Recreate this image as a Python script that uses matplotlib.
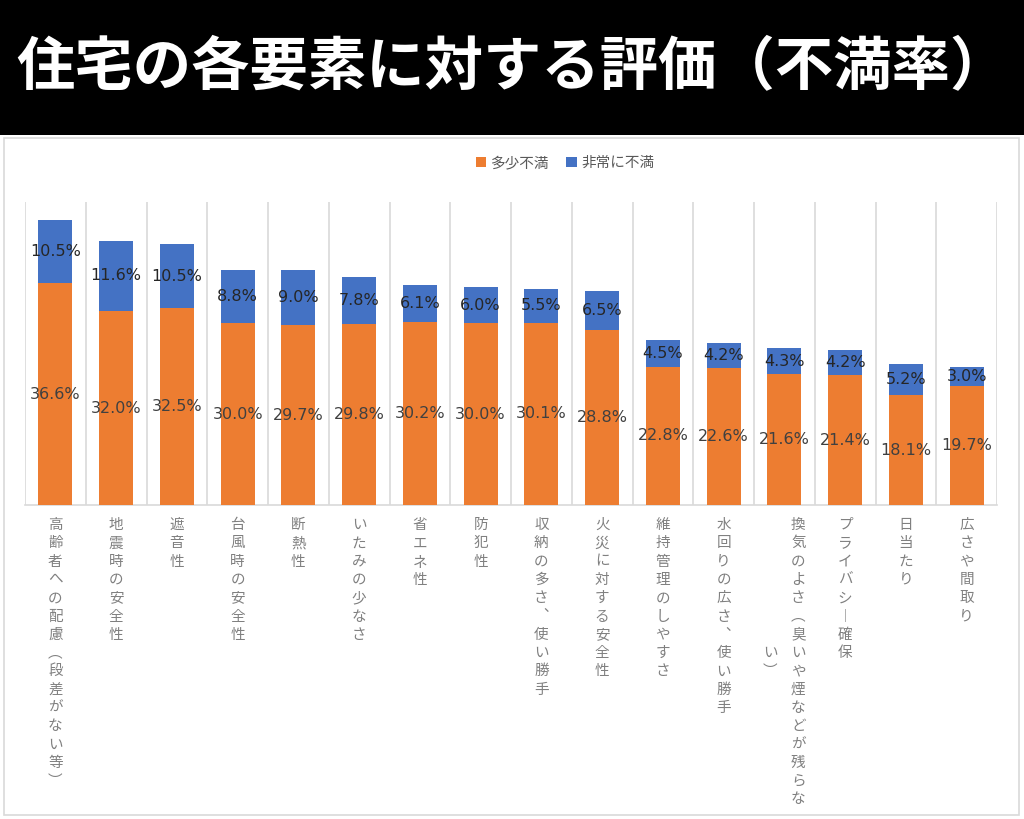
import numpy as np
import matplotlib
matplotlib.use("Agg")
import matplotlib.pyplot as plt
from matplotlib.patches import Rectangle
from matplotlib.transforms import blended_transform_factory

plt.rcParams['font.family'] = ['Noto Sans CJK JP', 'DejaVu Sans']

# データ
categories = ["高齢者への配慮（段差がない等）", "地震時の安全性", "遮音性", "台風時の安全性",
              "断熱性", "いたみの少なさ", "省エネ性", "防犯性", "収納の多さ、使い勝手",
              "火災に対する安全性", "維持管理のしやすさ", "水回りの広さ、使い勝手",
              "換気のよさ（臭いや煙などが残らない）", "プライバシー確保", "日当たり", "広さや間取り"]
tashou = [36.6, 32.0, 32.5, 30.0, 29.7, 29.8, 30.2, 30.0, 30.1, 28.8, 22.8, 22.6, 21.6, 21.4, 18.1, 19.7]
hijou = [10.5, 11.6, 10.5, 8.8, 9.0, 7.8, 6.1, 6.0, 5.5, 6.5, 4.5, 4.2, 4.3, 4.2, 5.2, 3.0]
series_names = ["多少不満", "非常に不満"]

ORANGE = "#ED7D31"
BLUE = "#4472C4"
W, H = 1024, 819

fig = plt.figure(figsize=(W / 100, H / 100), dpi=100)
fig.patch.set_facecolor("white")

# タイトル帯
fig.add_artist(Rectangle((0, 1 - 135 / H), 1, 135 / H, transform=fig.transFigure,
                         facecolor="black", edgecolor="none", zorder=0))
fig.text(0.5, 1 - 68 / H, "住宅の各要素に対する評価（不満率）", color="white",
         fontsize=42, fontweight="bold", ha="center", va="center")

# グラフ枠
fig.add_artist(Rectangle((4 / W, 1 - 815 / H), 1015 / W, (815 - 138) / H, transform=fig.transFigure,
                         facecolor="white", edgecolor="#d9d9d9", lw=1.2, zorder=0))

ax = fig.add_axes([25 / W, 1 - 505 / H, 972 / W, 303 / H])
x = np.arange(len(categories))
b1 = ax.bar(x, tashou, width=0.56, color=ORANGE, zorder=3, label=series_names[0])
b2 = ax.bar(x, hijou, width=0.56, bottom=tashou, color=BLUE, zorder=3, label=series_names[1])

for i in range(len(x)):
    ax.text(x[i], tashou[i] / 2, f"{tashou[i]:.1f}%", ha="center", va="center",
            fontsize=11.5, color="#404040", family=["DejaVu Sans"], zorder=4)
    ax.text(x[i], tashou[i] + hijou[i] / 2, f"{hijou[i]:.1f}%", ha="center", va="center",
            fontsize=11.5, color="#262626", family=["DejaVu Sans"], zorder=4)

ax.set_xlim(-0.5, len(categories) - 0.5)
ax.set_ylim(0, 50)
for b in np.arange(-0.5, len(categories), 1.0):
    ax.axvline(b, color="#d9d9d9", lw=1.2, zorder=1)
for s in ["top", "right", "left"]:
    ax.spines[s].set_visible(False)
ax.spines["bottom"].set_color("#d9d9d9")
ax.spines["bottom"].set_linewidth(1.2)
ax.set_xticks([])
ax.set_yticks([])

# 縦書きラベル
vert = {"（": "︵", "）": "︶", "、": "︑", "ー": "︱"}
tr = blended_transform_factory(ax.transData, fig.transFigure)
step = 18.3
for i, lab in enumerate(categories):
    if i == 12:
        cols = [(lab[:-2], 0.23, 0), (lab[-2:], -0.23, 7)]
    else:
        cols = [(lab, 0.0, 0)]
    for text, dx, k0 in cols:
        for k, ch in enumerate(text):
            ypx = 525 + (k + k0) * step
            ax.text(x[i] + dx, 1 - ypx / H, vert.get(ch, ch), transform=tr, ha="center",
                    va="center", fontsize=10.5, color="#808080", clip_on=False)

fig.legend(handles=[b1, b2], labels=series_names, loc="center", ncol=2, frameon=False,
           bbox_to_anchor=(565 / W, 1 - 163 / H), fontsize=10.5, labelcolor="#595959",
           handlelength=0.7, handleheight=0.7, handletextpad=0.3, columnspacing=1.2)

fig.savefig("out.png", dpi=100)
